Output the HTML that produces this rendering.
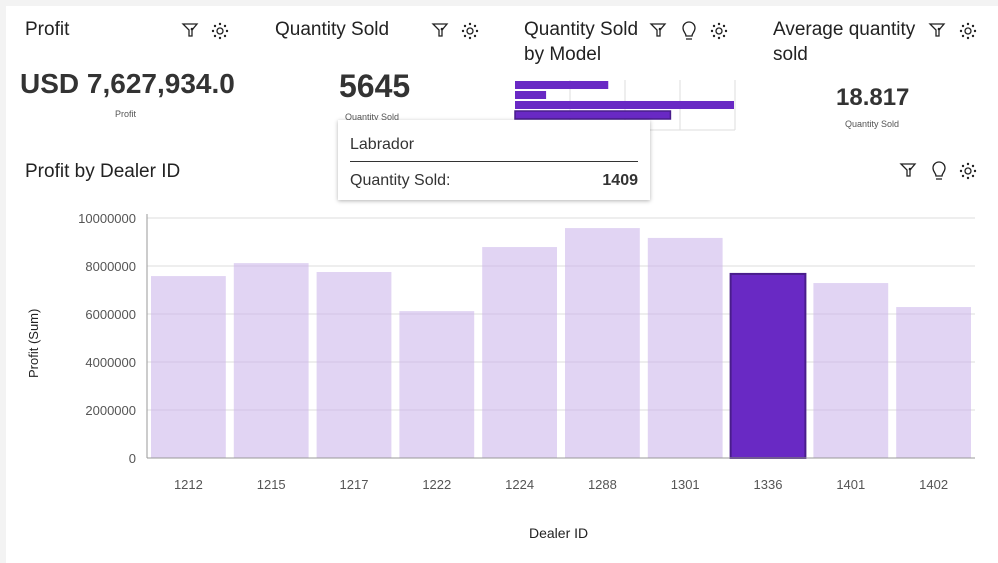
<!DOCTYPE html>
<html><head><meta charset="utf-8"><style>
body{margin:0;width:998px;height:563px;background:#f3f3f3;font-family:"Liberation Sans",sans-serif;overflow:hidden;position:relative}
.panel{position:absolute;left:6px;top:6px;width:992px;height:557px;background:#fff}
.t{position:absolute;color:#222;font-size:19px;line-height:25px}
.ic{position:absolute}
.tip{position:absolute;left:338px;top:120px;width:312px;height:80px;background:#fff;box-shadow:0 1px 4px rgba(0,0,0,.3)}
</style></head><body>
<div class="panel"></div>
<div class="t" style="left:25px;top:17px">Profit</div>
<div class="t" style="left:275px;top:17px">Quantity Sold</div>
<div class="t" style="left:524px;top:17px;width:120px">Quantity Sold by Model</div>
<div class="t" style="left:773px;top:17px;width:150px">Average quantity sold</div>
<div class="t" style="left:25px;top:159px">Profit by Dealer ID</div>
<div style="position:absolute;left:20px;top:68px;font-size:28px;font-weight:bold;color:#333">USD 7,627,934.0</div>
<div style="position:absolute;left:115px;top:109px;font-size:9px;color:#555">Profit</div>
<div style="position:absolute;left:339px;top:68px;font-size:32px;font-weight:bold;color:#333">5645</div>
<div style="position:absolute;left:345px;top:112px;font-size:9px;color:#555">Quantity Sold</div>
<div style="position:absolute;left:836px;top:84px;font-size:24px;font-weight:bold;color:#333">18.817</div>
<div style="position:absolute;left:845px;top:119px;font-size:9px;color:#555">Quantity Sold</div>
<svg width="998" height="563" style="position:absolute;left:0;top:0" id="svg">
<g id="icons" fill="none" stroke="#222" stroke-width="1.3"></g>
<g id="mini"></g>
<g id="main"></g>
</svg>
<div class="tip">
<div style="position:absolute;left:12px;top:16px;font-size:16px;color:#333">Labrador</div>
<div style="position:absolute;left:12px;right:12px;top:41px;border-top:1px solid #333"></div>
<div style="position:absolute;left:12px;top:52px;font-size:16px;color:#333">Quantity Sold:</div>
<div style="position:absolute;right:12px;top:52px;font-size:16px;font-weight:bold;color:#333">1409</div>
</div>
<script>
const dealers=['1212','1215','1217','1222','1224','1288','1301','1336','1401','1402'];
const profits=[7580000,8120000,7750000,6120000,8790000,9580000,9170000,7670000,7290000,6290000];
const yTicks=[0,2000000,4000000,6000000,8000000,10000000];
const selectedIndex=7;
const modelQty=[600,200,1409,1000];
const NS='http://www.w3.org/2000/svg';
function mk(p,t,a){const e=document.createElementNS(NS,t);for(const k in a)e.setAttribute(k,a[k]);p.appendChild(e);return e;}
const main=document.getElementById('main');
const x0=147,x1=975,yTop=218,yBot=458,yMax=10000000;
const y=v=>yBot-(v/yMax)*(yBot-yTop);
const band=(x1-x0)/dealers.length;
yTicks.forEach(t=>{
 const l=mk(main,'line',{x1:x0,x2:x1,y1:y(t),y2:y(t),stroke:'#ddd'});
 
 const tx=mk(main,'text',{x:136,y:y(t)+5,'text-anchor':'end','font-size':13,fill:'#555'});
 tx.textContent=t;
});
dealers.forEach((d,i)=>{
 const bx=x0+i*band+4,w=band-8,sel=i===selectedIndex;
 const r=mk(main,'rect',{x:bx,y:y(profits[i]),width:w,height:yBot-y(profits[i]),fill:sel?'#6929c4':'#c9b1ea','fill-opacity':sel?1:0.55,stroke:sel?'#491d8b':'none','stroke-width':2});
 
 const tx=mk(main,'text',{x:bx+w/2,y:489,'text-anchor':'middle','font-size':13,fill:'#555'});
 tx.textContent=d;
});
let a=mk(main,'line',{x1:x0,x2:x0,y1:yTop-4,y2:yBot,stroke:'#999'});
a=mk(main,'line',{x1:x0,x2:x1,y1:yBot,y2:yBot,stroke:'#999'});
let tt=mk(main,'text',{x:529,y:538,'font-size':14,fill:'#222'});tt.textContent='Dealer ID';
tt=mk(main,'text',{x:0,y:0,'font-size':13,fill:'#222',transform:'translate(38,378) rotate(-90)'});tt.textContent='Profit (Sum)';
const mini=document.getElementById('mini');
const mx0=515,mx1=734,mMax=1409;
[570,625,680,735].forEach(gx=>{const l=mk(mini,'line',{x1:gx,x2:gx,y1:80,y2:130,stroke:'#ddd'});});
let l=mk(mini,'line',{x1:mx0,x2:735,y1:130,y2:130,stroke:'#ddd'});
modelQty.forEach((q,i)=>{
 const r=mk(mini,'rect',{x:mx0,y:81+i*10,width:(q/mMax)*(mx1-mx0),height:8,fill:'#6929c4',stroke:i===3?'#491d8b':'none','stroke-width':1.5});
 
});
const ic=document.getElementById('icons');
function filt(x,yy){const g=mk(ic,'g',{transform:`translate(${x},${yy})`});
 mk(g,'path',{d:'M0 0H14L9 6V12H6V6Z'});mk(g,'circle',{cx:9,cy:5,r:1.3,fill:'#222',stroke:'none'});}
function gear(x,yy){const g=mk(ic,'g',{transform:`translate(${x},${yy})`});
 mk(g,'circle',{cx:0,cy:0,r:3});[[0,-7],[5,-5],[7,0],[5,5],[0,7],[-5,5],[-7,0],[-5,-5]].forEach(p=>mk(g,'circle',{cx:p[0],cy:p[1],r:1.2,fill:'#222',stroke:'none'}));}
function bulb(x,yy){const g=mk(ic,'g',{transform:`translate(${x},${yy})`});
 mk(g,'path',{d:'M-3 5C-3 2 -6 1 -6 -3A6 6 0 0 1 6 -3C6 1 3 2 3 5Z'});mk(g,'line',{x1:-3,x2:3,y1:8,y2:8});}
filt(183,24);gear(220,31);filt(433,24);gear(470,31);filt(651,24);bulb(689,31);gear(719,31);filt(930,24);gear(968,31);
filt(901,164);bulb(939,171);gear(968,171);
</script>
</body></html>
